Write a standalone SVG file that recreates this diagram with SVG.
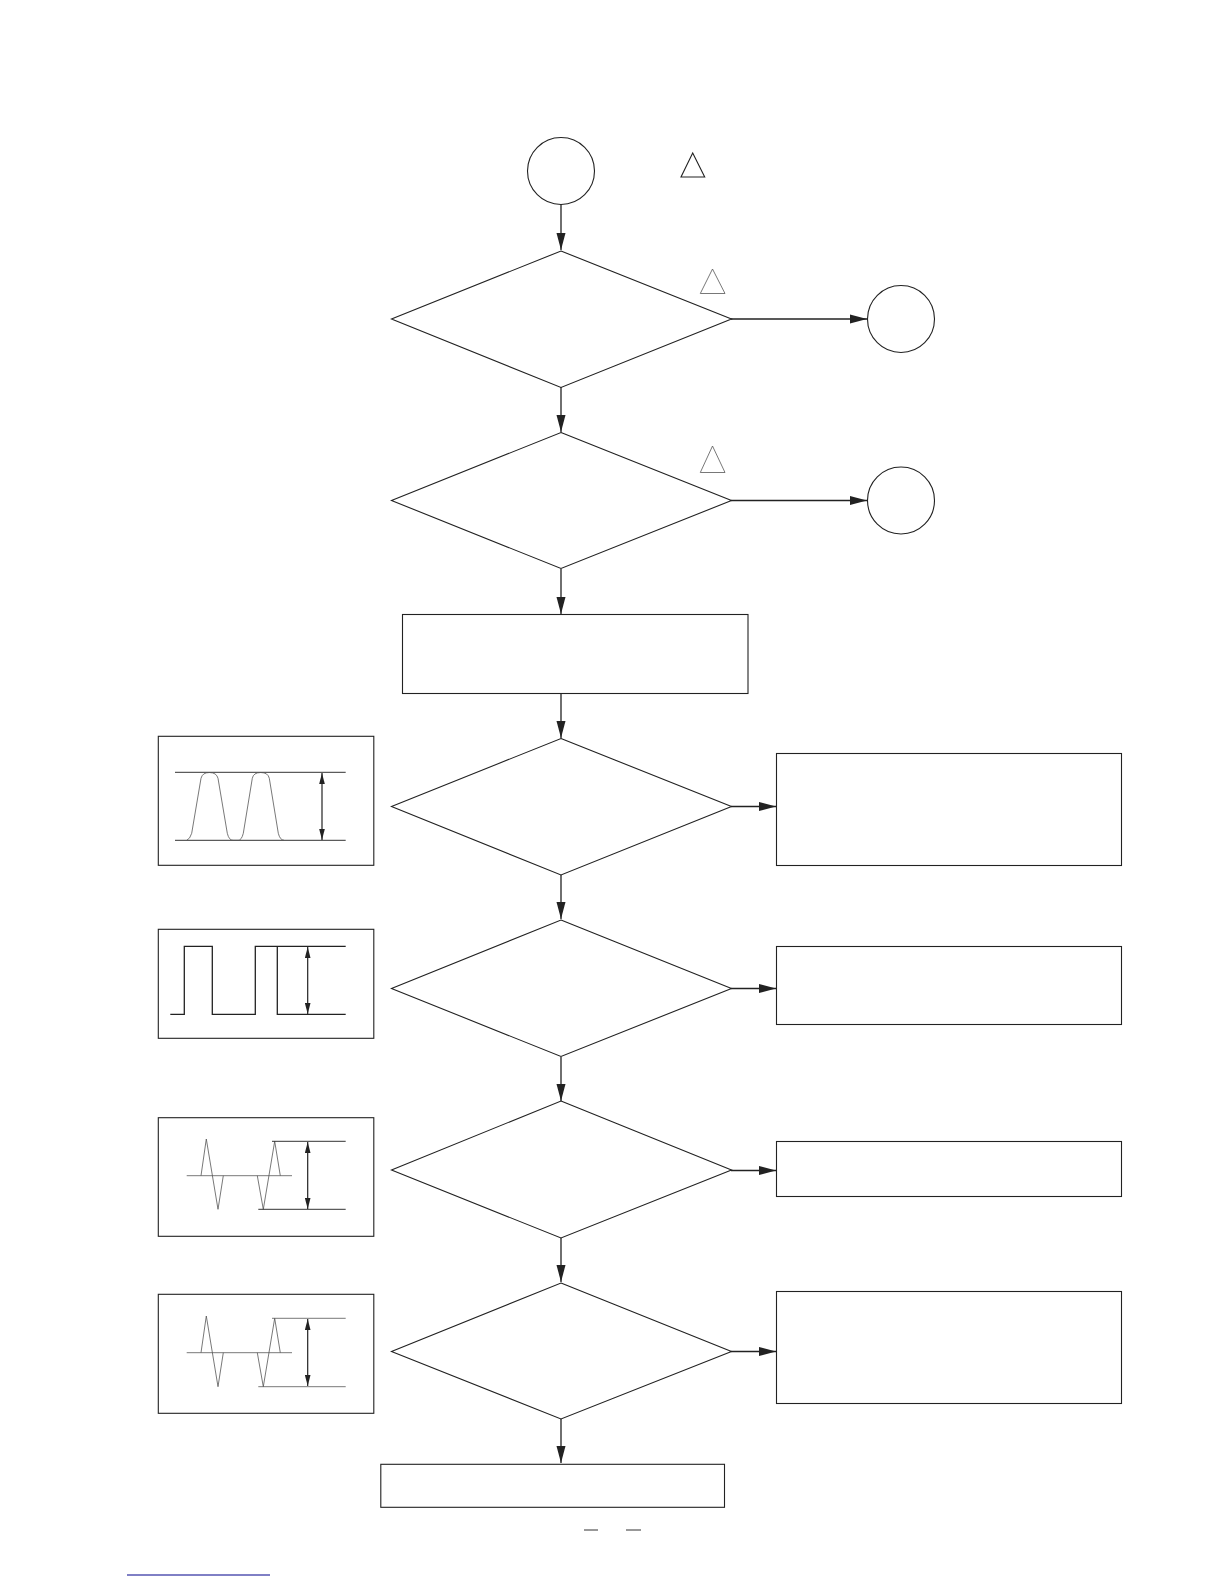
<svg xmlns="http://www.w3.org/2000/svg" width="1224" height="1584" viewBox="0 0 1224 1584">
<style>
.n{fill:none;stroke:#222;stroke-width:1.1}
.c{fill:none;stroke:#222;stroke-width:1.3}
.b{fill:none;stroke:#222;stroke-width:1.1}
.w{fill:none;stroke:#555;stroke-width:.8}
.l{fill:none;stroke:#333;stroke-width:1}
.a{fill:none;stroke:#222;stroke-width:1.2;marker-start:url(#hs);marker-end:url(#he)}
</style>
<defs>
<marker id="m" markerUnits="userSpaceOnUse" markerWidth="18" markerHeight="10" refX="17" refY="5" orient="auto"><path d="M0 .5L17 5L0 9.500z" fill="#222"/></marker>
<marker id="he" markerUnits="userSpaceOnUse" markerWidth="12" markerHeight="6" refX="11" refY="3" orient="auto"><path d="M0 .2L11 3L0 5.800z" fill="#222"/></marker>
<marker id="hs" markerUnits="userSpaceOnUse" markerWidth="12" markerHeight="6" refX="1" refY="3" orient="auto"><path d="M12 .2L1 3L12 5.800z" fill="#222"/></marker>
</defs>
<g id="connectors">
<path class="c" marker-end="url(#m)" d="M561 204V250"/>
<path class="c" marker-end="url(#m)" d="M561 387V432"/>
<path class="c" marker-end="url(#m)" d="M561 569V614"/>
<path class="c" marker-end="url(#m)" d="M561 693V738"/>
<path class="c" marker-end="url(#m)" d="M561 875V919"/>
<path class="c" marker-end="url(#m)" d="M561 1057V1101"/>
<path class="c" marker-end="url(#m)" d="M561 1238V1282"/>
<path class="c" marker-end="url(#m)" d="M561 1419V1463"/>
<path class="c" marker-end="url(#m)" d="M731 319H867"/>
<path class="c" marker-end="url(#m)" d="M731 500.500H867"/>
<path class="c" marker-end="url(#m)" d="M731 806.500H776"/>
<path class="c" marker-end="url(#m)" d="M731 988.500H776"/>
<path class="c" marker-end="url(#m)" d="M731 1170.500H776"/>
<path class="c" marker-end="url(#m)" d="M731 1351.500H776"/>
</g>
<g id="start"><circle class="n" cx="561" cy="171" r="33.500"/></g>
<g id="note-triangle-1"><path class="n" d="M692.700 153L704.700 177H681z"/></g>
<g id="d1"><path class="n" d="M561 251L731.500 319L561 387.500L391.500 319z"/></g>
<g id="note-triangle-2"><path class="w" d="M712.500 269L725 293.500H700.300z"/></g>
<g id="c2"><circle class="n" cx="901" cy="319" r="33.500"/></g>
<g id="d2"><path class="n" d="M561 432.500L731.500 500.500L561 568.500L391.500 500.500z"/></g>
<g id="note-triangle-3"><path class="w" d="M712.500 446L725 472.500H700.300z"/></g>
<g id="c3"><circle class="n" cx="901" cy="500.500" r="33.500"/></g>
<g id="r1"><rect class="b" x="402.500" y="614.500" width="345.500" height="79"/></g>
<g id="d3"><path class="n" d="M561 738.500L731.500 806.500L561 875L391.500 806.500z"/></g>
<g id="d4"><path class="n" d="M561 920L731.500 988.500L561 1056.500L391.500 988.500z"/></g>
<g id="d5"><path class="n" d="M561 1101L731.500 1170L561 1238L391.500 1170z"/></g>
<g id="d6"><path class="n" d="M561 1283L731.500 1351.500L561 1419L391.500 1351.500z"/></g>
<g id="r2"><rect class="b" x="776.500" y="753.500" width="345" height="112"/></g>
<g id="r3"><rect class="b" x="776.500" y="946.500" width="345" height="78"/></g>
<g id="r4"><rect class="b" x="776.500" y="1141.500" width="345" height="55"/></g>
<g id="r5"><rect class="b" x="776.500" y="1291.500" width="345" height="112"/></g>
<g id="r6"><rect class="b" x="380.800" y="1464.300" width="343.700" height="43"/></g>
<g id="wave1">
<rect class="b" x="158.300" y="736.300" width="215.500" height="129"/>
<path class="l" d="M175 772.300H345.700M175 840.300H345.700"/>
<path class="w" d="M186.700 840.300Q190 839 191.700 833.300L201 778.300Q202.500 772.500 209.300 772.500Q216.500 772.500 218 778.300L227.300 833.300Q229 840.300 233 840.300H238.300Q241.500 840.300 243.300 833.300L252.300 778.300Q253.500 772.500 260.700 772.500Q268 772.500 269.300 778.300L278.300 833.300Q280 840 284 840.300"/>
<path class="a" d="M322 773V840"/>
</g>
<g id="wave2">
<rect class="b" x="158.300" y="929.300" width="215.500" height="109"/>
<path class="c" d="M170.300 1014.300H184.300V946.300H212.300V1014.300H255.300V946.300H345.700M277.300 946.300V1014.300H345.700"/>
<path class="a" d="M307.700 947V1014"/>
</g>
<g id="wave3">
<rect class="b" x="158.300" y="1117.700" width="215.500" height="118.600"/>
<path class="w" d="M186.700 1175.700H292M201 1175.700L206.300 1139L218 1209.300L223.300 1175.700M257.300 1175.700L263.300 1209.300L274.700 1141.300L280.300 1175.700"/>
<path class="l" d="M272 1141.300H345.700M258.300 1209.300H345.700"/>
<path class="a" d="M307.700 1142V1209"/>
</g>
<g id="wave4">
<rect class="b" x="158.300" y="1294.300" width="215.500" height="119"/>
<path class="w" d="M186.700 1352.700H292M201 1352.700L206.300 1316L218 1386.700L223.300 1352.700M257.300 1352.700L263.300 1386.700L274.700 1318.300L280.300 1352.700"/>
<path class="w" d="M272 1318.300H345.700M258.300 1386.700H345.700"/>
<path class="a" d="M307.700 1319V1386"/>
</g>
<g id="footer-marks">
<path class="l" d="M584 1530H598M626 1530H641"/>
<path fill="none" stroke="#00008b" stroke-width="1" d="M127 1575H270"/>
</g>
</svg>
